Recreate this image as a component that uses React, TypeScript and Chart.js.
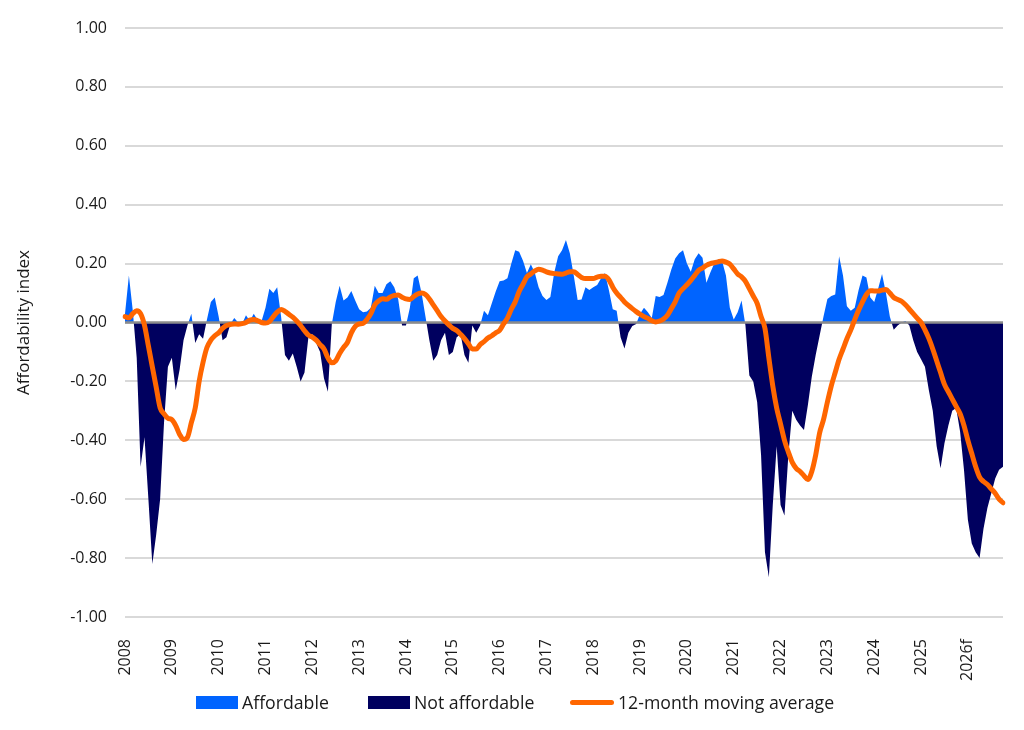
import React, { useEffect, useRef } from "react";
import { Chart, registerables } from "chart.js";

Chart.register(...registerables);

// Year labels for the monthly x axis (first month of each year)
const years = [
  "2008", "2009", "2010", "2011", "2012", "2013", "2014", "2015", "2016",
  "2017", "2018", "2019", "2020", "2021", "2022", "2023", "2024", "2025", "2026f",
];

// Monthly affordability index, Jan 2008 – Oct 2026
const affordability: number[] = [
  // 2008
  0.03, 0.16, 0.04, -0.12, -0.49, -0.39, -0.6, -0.82, -0.72, -0.6, -0.34, -0.15,
  // 2009
  -0.12, -0.23, -0.16, -0.06, -0.01, 0.03, -0.07, -0.04, -0.055, 0.01, 0.07, 0.085,
  // 2010
  0.02, -0.06, -0.05, -0.005, 0.015, 0.0, -0.005, 0.025, 0.005, 0.03, 0.008, 0.005,
  // 2011
  0.05, 0.115, 0.1, 0.12, 0.02, -0.11, -0.13, -0.105, -0.15, -0.2, -0.17, -0.05,
  // 2012
  -0.04, -0.07, -0.1, -0.19, -0.235, -0.005, 0.07, 0.125, 0.075, 0.085, 0.107, 0.075,
  // 2013
  0.045, 0.035, 0.037, 0.05, 0.125, 0.1, 0.1, 0.13, 0.14, 0.12, 0.08, -0.01,
  // 2014
  -0.01, 0.05, 0.15, 0.16, 0.1, 0.02, -0.06, -0.13, -0.11, -0.06, -0.035, -0.11,
  // 2015
  -0.1, -0.05, -0.04, -0.11, -0.137, -0.01, -0.035, -0.01, 0.04, 0.025, 0.065, 0.105,
  // 2016
  0.14, 0.143, 0.15, 0.2, 0.245, 0.24, 0.21, 0.168, 0.198, 0.17, 0.12, 0.09,
  // 2017
  0.076, 0.087, 0.17, 0.225, 0.245, 0.28, 0.235, 0.16, 0.076, 0.078, 0.12, 0.11,
  // 2018
  0.12, 0.127, 0.15, 0.168, 0.11, 0.045, 0.04, -0.05, -0.088, -0.035, -0.012, -0.005,
  // 2019
  0.03, 0.05, 0.035, 0.015, 0.09, 0.087, 0.093, 0.135, 0.18, 0.217, 0.235, 0.245,
  // 2020
  0.2, 0.172, 0.215, 0.235, 0.22, 0.135, 0.17, 0.2, 0.215, 0.21, 0.16, 0.05,
  // 2021
  0.01, 0.035, 0.075, -0.01, -0.18, -0.2, -0.27, -0.45, -0.78, -0.865, -0.62, -0.42,
  // 2022
  -0.62, -0.655, -0.45, -0.3, -0.33, -0.35, -0.365, -0.28, -0.184, -0.11, -0.045, 0.02,
  // 2023
  0.08, 0.09, 0.095, 0.225, 0.16, 0.055, 0.04, 0.05, 0.11, 0.16, 0.153, 0.085,
  // 2024
  0.07, 0.115, 0.165, 0.1, 0.02, -0.025, -0.01, 0.0, 0.005, -0.01, -0.06, -0.1,
  // 2025
  -0.125, -0.15, -0.23, -0.3, -0.42, -0.495, -0.41, -0.35, -0.3, -0.29, -0.37, -0.5,
  // 2026 (forecast)
  -0.67, -0.75, -0.78, -0.8, -0.7, -0.63, -0.58, -0.53, -0.5, -0.49,
];

// 12-month moving average of the index
const movingAverage: number[] = [
  // 2008
  0.02, 0.016, 0.03, 0.04, 0.03, -0.01, -0.08, -0.15, -0.22, -0.29, -0.31, -0.325,
  // 2009
  -0.33, -0.35, -0.38, -0.397, -0.39, -0.34, -0.29, -0.2, -0.135, -0.085, -0.06, -0.045,
  // 2010
  -0.035, -0.02, -0.01, -0.007, -0.005, -0.006, -0.004, 0.0, 0.008, 0.01, 0.006, 0.0,
  // 2011
  -0.002, 0.003, 0.02, 0.035, 0.044, 0.038, 0.028, 0.018, 0.005, -0.01, -0.028, -0.043,
  // 2012
  -0.05, -0.06, -0.075, -0.09, -0.12, -0.137, -0.13, -0.105, -0.085, -0.068, -0.035, -0.013,
  // 2013
  -0.005, -0.003, 0.01, 0.03, 0.06, 0.073, 0.081, 0.079, 0.087, 0.092, 0.093, 0.086,
  // 2014
  0.08, 0.078, 0.088, 0.097, 0.1, 0.095, 0.08, 0.06, 0.04, 0.02, 0.005, -0.008,
  // 2015
  -0.02, -0.027, -0.04, -0.055, -0.072, -0.09, -0.09, -0.075, -0.065, -0.053, -0.045, -0.035,
  // 2016
  -0.027, -0.005, 0.015, 0.045, 0.07, 0.105, 0.13, 0.155, 0.165, 0.175, 0.181, 0.178,
  // 2017
  0.172, 0.168, 0.166, 0.165, 0.164, 0.168, 0.172, 0.172, 0.163, 0.153, 0.149, 0.149,
  // 2018
  0.149, 0.154, 0.157, 0.157, 0.145, 0.12, 0.1, 0.085, 0.07, 0.058, 0.047, 0.037,
  // 2019
  0.028, 0.02, 0.014, 0.006, 0.002, 0.005, 0.012, 0.025, 0.047, 0.07, 0.1, 0.115,
  // 2020
  0.128, 0.143, 0.16, 0.177, 0.185, 0.194, 0.2, 0.203, 0.206, 0.209, 0.205, 0.198,
  // 2021
  0.182, 0.165, 0.155, 0.14, 0.115, 0.09, 0.065, 0.02, -0.02, -0.12, -0.215, -0.29,
  // 2022
  -0.345, -0.4, -0.44, -0.475, -0.495, -0.506, -0.52, -0.533, -0.506, -0.45, -0.375, -0.33,
  // 2023
  -0.27, -0.215, -0.17, -0.125, -0.09, -0.055, -0.025, 0.01, 0.042, 0.07, 0.095, 0.108,
  // 2024
  0.107, 0.107, 0.11, 0.112, 0.1, 0.085, 0.078, 0.072, 0.06, 0.045, 0.03, 0.015,
  // 2025
  0.0, -0.025, -0.054, -0.09, -0.13, -0.17, -0.21, -0.235, -0.26, -0.285, -0.31, -0.35,
  // 2026 (forecast)
  -0.4, -0.445, -0.49, -0.525, -0.54, -0.55, -0.565, -0.58, -0.6, -0.612,
];

const BLUE = "#0064ff";
const NAVY = "#00005f";
const ORANGE = "#ff6600";
const GRID = "#d9d9d9";
const ZERO = "#8c8c8c";
const TEXT = "#1a1a1a";
const FONT = "'Open Sans', 'Noto Sans', sans-serif";

export default function App() {
  const canvasRef = useRef<HTMLCanvasElement>(null);

  useEffect(() => {
    const canvas = canvasRef.current;
    if (!canvas) return;

    // One label per month; only January carries the year text
    const labels = years
      .flatMap((y) => Array.from({ length: 12 }, (_, m) => (m === 0 ? y : "")))
      .slice(0, affordability.length);

    // Darker zero line drawn above the filled area but beneath the average line
    const zeroLine = {
      id: "zeroLine",
      afterDatasetDraw(chart: any, args: any) {
        if (args.index !== 1) return;
        const { ctx, chartArea } = chart;
        const y = chart.scales.y.getPixelForValue(0);
        ctx.save();
        ctx.strokeStyle = ZERO;
        ctx.lineWidth = 2.5;
        ctx.beginPath();
        ctx.moveTo(chartArea.left, y);
        ctx.lineTo(chartArea.right, y);
        ctx.stroke();
        ctx.restore();
      },
    };

    const chart = new Chart(canvas, {
      type: "line",
      data: {
        labels,
        datasets: [
          {
            label: "12-month moving average",
            data: movingAverage,
            borderColor: ORANGE,
            borderWidth: 5,
            pointRadius: 0,
            fill: false,
            cubicInterpolationMode: "monotone",
            borderCapStyle: "round",
            borderJoinStyle: "round",
          },
          {
            label: "Affordability index",
            data: affordability,
            borderWidth: 0,
            pointRadius: 0,
            tension: 0,
            backgroundColor: BLUE,
            fill: { target: "origin", above: BLUE, below: NAVY },
          },
        ],
      },
      options: {
        responsive: false,
        animation: false,
        layout: { padding: { top: 28, right: 21, left: 0, bottom: 0 } },
        plugins: {
          legend: { display: false },
          tooltip: { enabled: false },
        },
        scales: {
          x: {
            grid: { display: false },
            border: { display: false },
            ticks: {
              autoSkip: false,
              minRotation: 90,
              maxRotation: 90,
              padding: 14,
              color: TEXT,
              font: { family: FONT, size: 16 },
            },
            afterFit: (s: any) => {
              s.height = 113;
              s.paddingLeft = 0;
              s.paddingRight = 0;
            },
          },
          y: {
            min: -1,
            max: 1,
            ticks: {
              stepSize: 0.2,
              padding: 18,
              color: TEXT,
              font: { family: FONT, size: 16 },
              callback: (v: any) => {
                const n = Number(v);
                return Math.abs(n) < 1e-9 ? "0.00" : n.toFixed(2);
              },
            },
            grid: { color: GRID, lineWidth: 2, drawTicks: false },
            border: { display: false },
            title: {
              display: true,
              text: "Affordability index",
              color: TEXT,
              font: { family: FONT, size: 17 },
              padding: { top: 14, bottom: 0 },
            },
            afterFit: (s: any) => {
              s.width = 125;
              s.paddingTop = 0;
              s.paddingBottom = 0;
            },
          },
        },
      },
      plugins: [zeroLine],
    } as any);

    return () => chart.destroy();
  }, []);

  const legendText: React.CSSProperties = {
    position: "absolute",
    top: 690,
    fontFamily: FONT,
    fontSize: 17.7,
    color: TEXT,
    lineHeight: "24px",
    whiteSpace: "nowrap",
  };

  return (
    <div
      style={{
        position: "fixed",
        left: 0,
        top: 0,
        width: 1024,
        height: 730,
        background: "#ffffff",
      }}
    >
      <canvas ref={canvasRef} width={1024} height={730} style={{ display: "block" }} />
      <div style={{ position: "absolute", left: 196, top: 696, width: 42, height: 13, background: BLUE }} />
      <div style={{ ...legendText, left: 242 }}>Affordable</div>
      <div style={{ position: "absolute", left: 368, top: 696, width: 42, height: 13, background: NAVY }} />
      <div style={{ ...legendText, left: 414 }}>Not affordable</div>
      <div
        style={{
          position: "absolute",
          left: 570,
          top: 700,
          width: 44,
          height: 5,
          borderRadius: 3,
          background: ORANGE,
        }}
      />
      <div style={{ ...legendText, left: 618 }}>12-month moving average</div>
    </div>
  );
}
